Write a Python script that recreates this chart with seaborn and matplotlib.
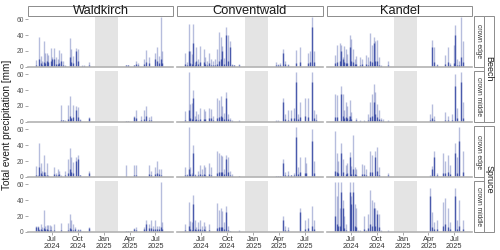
import pandas as pd
import matplotlib
matplotlib.use("Agg")
import matplotlib.pyplot as plt
from matplotlib.patches import Rectangle
import seaborn as sns

# facets
sites = ["Waldkirch", "Conventwald", "Kandel"]
row_species = ["Beech", "Beech", "Spruce", "Spruce"]
row_positions = ["crown edge", "crown middle", "crown edge", "crown middle"]

# rain events (same dates for every site)
event_dates = [
    "2024-05-07", "2024-05-14", "2024-05-19", "2024-05-24", "2024-05-29", "2024-06-03",
    "2024-06-09", "2024-06-14", "2024-06-19", "2024-06-24", "2024-06-29", "2024-07-04",
    "2024-07-10", "2024-07-16", "2024-07-22", "2024-07-28", "2024-08-04", "2024-08-11",
    "2024-08-18", "2024-08-26", "2024-09-02", "2024-09-08", "2024-09-14", "2024-09-20",
    "2024-09-26", "2024-10-02", "2024-10-09", "2024-10-16", "2024-10-24", "2024-11-10",
    "2025-03-20", "2025-03-27", "2025-04-05", "2025-04-15", "2025-04-22", "2025-05-01",
    "2025-05-12", "2025-05-22", "2025-05-30", "2025-06-08", "2025-06-15", "2025-06-23",
    "2025-06-30", "2025-07-05", "2025-07-12", "2025-07-19", "2025-07-25", "2025-08-02",
    "2025-08-10",
]

# winter gap without measurements
gap_start, gap_end = "2024-12-01", "2025-02-20"

tick_dates = ["2024-07-01", "2024-10-01", "2025-01-01", "2025-04-01", "2025-07-01"]
tick_labels = ["Jul\n2024", "Oct\n2024", "Jan\n2025", "Apr\n2025", "Jul\n2025"]

# event totals [mm]: hi = highest collector, lo = typical collector
waldkirch_beech_edge_hi = [9, 0, 37, 14, 8, 32, 18, 17, 15, 0, 24, 12, 24, 12, 10, 21, 18, 7, 3, 0, 36, 22, 14, 0, 24, 22, 0, 2, 2, 6,
                           2, 2, 0, 2, 8, 5, 0, 10, 21, 12, 0, 0, 17, 25, 14, 63, 20, 0, 0]
waldkirch_beech_edge_lo = [3, 0, 10, 5, 3, 6, 5, 8, 6, 0, 8, 10, 10, 4, 4, 5, 8, 3, 1, 0, 12, 6, 5, 0, 20, 8, 0, 1, 1, 3,
                           2, 2, 0, 2, 4, 2, 0, 4, 6, 5, 0, 0, 10, 8, 5, 10, 5, 0, 0]
waldkirch_beech_middle_hi = [0, 0, 0, 0, 0, 0, 0, 0, 0, 0, 0, 0, 0, 0, 0, 0, 21, 3, 2, 21, 32, 5, 21, 0, 20, 19, 4, 0, 0, 6,
                             1, 1, 0, 7, 15, 0, 8, 15, 20, 6, 8, 0, 0, 0, 0, 0, 0, 0, 0]
waldkirch_beech_middle_lo = [0, 0, 0, 0, 0, 0, 0, 0, 0, 0, 0, 0, 0, 0, 0, 0, 3, 2, 1, 4, 8, 5, 6, 0, 15, 6, 2, 0, 0, 5,
                             1, 1, 0, 6, 5, 0, 3, 4, 7, 3, 3, 0, 0, 0, 0, 0, 0, 0, 0]
waldkirch_spruce_edge_hi = [14, 3, 43, 17, 8, 28, 6, 17, 3, 0, 0, 0, 13, 5, 10, 8, 2, 0, 8, 23, 36, 25, 19, 0, 25, 28, 3, 0, 0, 7,
                            15, 0, 0, 15, 15, 0, 0, 0, 0, 15, 8, 0, 12, 20, 10, 10, 0, 0, 0]
waldkirch_spruce_edge_lo = [2, 1, 12, 5, 3, 6, 3, 2, 1, 0, 0, 0, 4, 3, 3, 4, 1, 0, 3, 5, 10, 6, 5, 0, 20, 22, 2, 0, 0, 5,
                            1, 0, 0, 3, 3, 0, 0, 0, 0, 4, 3, 0, 4, 5, 4, 3, 0, 0, 0]
waldkirch_spruce_middle_hi = [8, 8, 4, 10, 6, 28, 8, 9, 9, 9, 7, 0, 10, 0, 0, 0, 11, 0, 0, 11, 23, 15, 10, 6, 0, 4, 4, 0, 0, 6,
                              1, 1, 1, 5, 6, 0, 0, 6, 15, 10, 15, 8, 15, 7, 7, 62, 13, 0, 0]
waldkirch_spruce_middle_lo = [6, 6, 3, 4, 3, 5, 4, 4, 3, 3, 3, 0, 3, 0, 0, 0, 2, 0, 0, 2, 5, 4, 3, 4, 0, 3, 2, 0, 0, 5,
                              1, 1, 1, 4, 3, 0, 0, 4, 10, 5, 5, 4, 4, 4, 4, 6, 4, 0, 0]

conventwald_beech_edge_hi = [18, 6, 54, 20, 16, 54, 6, 25, 10, 0, 26, 0, 22, 12, 7, 18, 10, 7, 10, 23, 44, 38, 26, 11, 50, 40, 33, 4, 3, 4,
                             6, 4, 5, 22, 8, 4, 0, 0, 21, 0, 25, 0, 0, 0, 18, 20, 63, 20, 0]
conventwald_beech_edge_lo = [4, 3, 20, 5, 4, 30, 3, 8, 4, 0, 6, 0, 6, 4, 3, 5, 3, 3, 3, 4, 8, 10, 20, 4, 40, 8, 25, 2, 2, 2,
                             3, 2, 3, 18, 4, 2, 0, 0, 5, 0, 6, 0, 0, 0, 5, 6, 50, 6, 0]
conventwald_beech_middle_hi = [14, 0, 62, 23, 24, 40, 8, 14, 10, 0, 18, 0, 16, 14, 0, 18, 16, 7, 0, 30, 28, 33, 20, 11, 38, 10, 5, 3, 0, 3,
                               2, 2, 0, 30, 10, 15, 15, 17, 62, 10, 25, 0, 30, 0, 30, 0, 62, 15, 10]
conventwald_beech_middle_lo = [3, 0, 15, 5, 4, 30, 3, 4, 3, 0, 4, 0, 4, 4, 0, 5, 5, 3, 0, 5, 6, 8, 6, 4, 30, 4, 2, 1, 0, 1,
                               1, 1, 0, 25, 4, 3, 5, 5, 50, 4, 6, 0, 8, 0, 6, 0, 50, 5, 3]
conventwald_spruce_edge_hi = [13, 4, 62, 13, 5, 40, 4, 0, 7, 0, 15, 10, 15, 12, 0, 18, 12, 0, 0, 32, 30, 28, 26, 10, 27, 25, 8, 4, 0, 1,
                              1, 1, 1, 22, 6, 7, 3, 5, 62, 12, 25, 0, 25, 18, 0, 0, 60, 20, 0]
conventwald_spruce_edge_lo = [3, 2, 10, 4, 2, 30, 2, 0, 3, 0, 4, 3, 4, 3, 0, 4, 3, 0, 0, 5, 6, 6, 6, 4, 22, 6, 3, 1, 0, 1,
                              1, 1, 1, 18, 3, 3, 2, 3, 50, 4, 6, 0, 5, 5, 0, 0, 45, 5, 0]
conventwald_spruce_middle_hi = [10, 0, 38, 14, 12, 46, 15, 6, 13, 0, 15, 8, 13, 8, 0, 10, 0, 0, 0, 36, 28, 30, 26, 12, 33, 8, 1, 0, 0, 3,
                                0, 0, 0, 20, 8, 6, 0, 0, 0, 0, 30, 0, 15, 0, 18, 0, 33, 15, 0]
conventwald_spruce_middle_lo = [3, 0, 8, 4, 3, 35, 4, 2, 4, 0, 4, 3, 4, 3, 0, 3, 0, 0, 0, 5, 6, 6, 6, 4, 25, 3, 1, 0, 0, 1,
                                0, 0, 0, 15, 3, 3, 0, 0, 0, 0, 25, 0, 4, 0, 5, 0, 8, 4, 0]

kandel_beech_edge_hi = [15, 28, 0, 30, 27, 12, 26, 23, 16, 0, 40, 35, 23, 10, 14, 0, 12, 10, 0, 15, 12, 42, 28, 38, 32, 34, 12, 3, 0, 7,
                        0, 0, 0, 34, 25, 4, 0, 0, 15, 25, 5, 0, 28, 52, 10, 7, 63, 32, 0]
kandel_beech_edge_lo = [5, 6, 0, 8, 20, 10, 6, 5, 5, 0, 25, 8, 6, 4, 4, 0, 3, 4, 0, 4, 3, 8, 6, 30, 8, 8, 3, 1, 0, 2,
                        0, 0, 0, 25, 6, 2, 0, 0, 4, 6, 2, 0, 5, 40, 3, 3, 12, 6, 0]
kandel_beech_middle_hi = [35, 34, 0, 0, 45, 35, 15, 25, 20, 8, 28, 12, 0, 0, 5, 0, 3, 0, 3, 0, 10, 25, 35, 48, 38, 22, 15, 5, 4, 3,
                          0, 0, 10, 22, 8, 0, 0, 0, 12, 8, 0, 10, 0, 60, 18, 0, 62, 25, 0]
kandel_beech_middle_lo = [6, 6, 0, 0, 35, 8, 5, 6, 5, 3, 8, 4, 0, 0, 2, 0, 1, 0, 1, 0, 3, 6, 8, 25, 10, 6, 4, 2, 1, 1,
                          0, 0, 2, 5, 3, 0, 0, 0, 3, 3, 0, 3, 0, 45, 5, 0, 50, 5, 0]
kandel_spruce_edge_hi = [58, 30, 20, 0, 42, 22, 0, 15, 18, 0, 31, 14, 52, 12, 10, 0, 0, 16, 15, 10, 0, 32, 28, 0, 32, 38, 12, 0, 0, 5,
                         0, 0, 3, 14, 32, 5, 0, 30, 20, 28, 15, 0, 0, 42, 25, 62, 0, 32, 0]
kandel_spruce_edge_lo = [8, 6, 5, 0, 30, 6, 0, 4, 5, 0, 25, 4, 10, 4, 3, 0, 0, 4, 4, 3, 0, 6, 6, 0, 25, 8, 3, 0, 0, 2,
                         0, 0, 1, 10, 25, 2, 0, 5, 5, 6, 4, 0, 0, 30, 5, 45, 0, 6, 0]
kandel_spruce_middle_hi = [62, 45, 62, 30, 62, 40, 20, 10, 0, 0, 62, 45, 62, 35, 30, 3, 3, 0, 20, 3, 22, 52, 40, 38, 30, 28, 23, 3, 0, 2,
                           0, 0, 55, 25, 13, 15, 0, 38, 42, 30, 12, 0, 0, 55, 15, 40, 0, 15, 0]
kandel_spruce_middle_lo = [20, 10, 8, 8, 50, 30, 5, 3, 0, 0, 50, 35, 50, 8, 6, 1, 1, 0, 4, 1, 5, 10, 8, 30, 8, 22, 6, 1, 0, 1,
                           0, 0, 45, 6, 4, 4, 0, 8, 10, 6, 4, 0, 0, 45, 4, 8, 0, 4, 0]

panels = [
    ("Waldkirch", 0, waldkirch_beech_edge_hi, waldkirch_beech_edge_lo),
    ("Waldkirch", 1, waldkirch_beech_middle_hi, waldkirch_beech_middle_lo),
    ("Waldkirch", 2, waldkirch_spruce_edge_hi, waldkirch_spruce_edge_lo),
    ("Waldkirch", 3, waldkirch_spruce_middle_hi, waldkirch_spruce_middle_lo),
    ("Conventwald", 0, conventwald_beech_edge_hi, conventwald_beech_edge_lo),
    ("Conventwald", 1, conventwald_beech_middle_hi, conventwald_beech_middle_lo),
    ("Conventwald", 2, conventwald_spruce_edge_hi, conventwald_spruce_edge_lo),
    ("Conventwald", 3, conventwald_spruce_middle_hi, conventwald_spruce_middle_lo),
    ("Kandel", 0, kandel_beech_edge_hi, kandel_beech_edge_lo),
    ("Kandel", 1, kandel_beech_middle_hi, kandel_beech_middle_lo),
    ("Kandel", 2, kandel_spruce_edge_hi, kandel_spruce_edge_lo),
    ("Kandel", 3, kandel_spruce_middle_hi, kandel_spruce_middle_lo),
]

frames = []
for site, row, hi, lo in panels:
    frames.append(pd.DataFrame({"site": site, "row": row,
                                "date": pd.to_datetime(event_dates), "hi": hi, "lo": lo}))
df = pd.concat(frames, ignore_index=True)

bar_color = "#2f42a0"

sns.set_theme(style="white")
plt.rcParams["font.family"] = ["Liberation Sans", "DejaVu Sans"]


def draw_events(data, **kws):
    ax = plt.gca()
    ax.axvspan(pd.Timestamp(gap_start), pd.Timestamp(gap_end), color="#e4e4e4", lw=0, zorder=0)
    d = data[data["hi"] > 0]
    ax.vlines(d["date"], 0, d["hi"], color=bar_color, alpha=0.35, lw=1.0)
    d = data[data["lo"] > 0]
    ax.vlines(d["date"], 0, d["lo"], color=bar_color, alpha=0.8, lw=1.0)


g = sns.FacetGrid(df, row="row", col="site", col_order=sites, row_order=[0, 1, 2, 3],
                  sharex=True, sharey=True, despine=False, height=1, aspect=2)
g.map_dataframe(draw_events)
g.set_titles("")
g.set_axis_labels("", "")
fig = g.figure
fig.set_size_inches(5, 2.5)
fig.subplots_adjust(left=0.056, right=0.944, top=0.936, bottom=0.072, wspace=0.03, hspace=0.08)

for i in range(4):
    for j in range(3):
        ax = g.axes[i, j]
        ax.set_xlim(pd.Timestamp("2024-04-09"), pd.Timestamp("2025-09-01"))
        ax.set_ylim(0, 63.8)
        for s in ["top", "left", "right"]:
            ax.spines[s].set_visible(False)
        ax.spines["bottom"].set_color("#b3b3b3")
        ax.spines["bottom"].set_linewidth(1.2)
        ax.set_yticks([0, 20, 40, 60])
        ax.set_xticks(pd.to_datetime(tick_dates))
        ax.set_xticklabels(tick_labels)
        ax.tick_params(axis="y", left=(j == 0), labelleft=(j == 0), length=2, width=0.5,
                       color="#888888", labelsize=4.8, labelcolor="#555555", pad=1)
        ax.tick_params(axis="x", bottom=(i == 3), labelbottom=(i == 3), length=2, width=0.5,
                       color="#888888", labelsize=5.4, labelcolor="#333333", pad=1)
        for lab in ax.get_xticklabels():
            lab.set_linespacing(0.95)
        ax.set_xlabel("")
        ax.set_ylabel("")

fw, fh = 500.0, 250.0
edge = "#8c8c8c"

# site strips on top
for j, site in enumerate(sites):
    p = g.axes[0, j].get_position()
    fig.patches.append(Rectangle((p.x0, p.y1), p.width, 10 / fh, transform=fig.transFigure,
                                 facecolor="white", edgecolor=edge, lw=0.7))
    fig.text(p.x0 + p.width / 2, p.y1 + 5 / fh, site, ha="center", va="center",
             fontsize=9.3, color="#1a1a1a")

# position strips and species strips on the right
for i in range(4):
    p = g.axes[i, 2].get_position()
    x0 = p.x1 + 2 / fw
    fig.patches.append(Rectangle((x0, p.y0), 10 / fw, p.height, transform=fig.transFigure,
                                 facecolor="white", edgecolor=edge, lw=0.7))
    fig.text(x0 + 5 / fw, p.y0 + p.height / 2, row_positions[i], rotation=-90,
             ha="center", va="center", fontsize=4.8, color="#333333")

for top_row in [0, 2]:
    pt = g.axes[top_row, 2].get_position()
    pb = g.axes[top_row + 1, 2].get_position()
    x0 = pt.x1 + 12 / fw
    fig.patches.append(Rectangle((x0, pb.y0), 10 / fw, pt.y1 - pb.y0, transform=fig.transFigure,
                                 facecolor="white", edgecolor=edge, lw=0.7))
    fig.text(x0 + 5 / fw, (pt.y1 + pb.y0) / 2, row_species[top_row], rotation=-90,
             ha="center", va="center", fontsize=6.5, color="#1a1a1a")

fig.text(0.014, 0.5, "Total event precipitation [mm]", rotation=90, ha="center", va="center",
         fontsize=7.2, color="#1a1a1a")

fig.savefig("out.png", dpi=100)
